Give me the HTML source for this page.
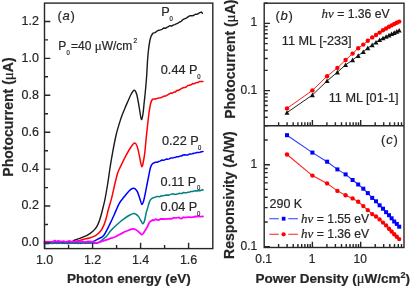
<!DOCTYPE html><html><head><meta charset="utf-8"><style>html,body{margin:0;padding:0;background:#fff;width:412px;height:287px;overflow:hidden}svg{display:block;will-change:transform}text{font-family:'Liberation Sans', sans-serif;fill:#262626;stroke:#262626;stroke-width:0.2}</style></head><body>
<svg width="412" height="287" viewBox="0 0 412 287">
<rect width="412" height="287" fill="#fff"/>
<path d="M44.5,242.4 L46.0,242.2 L47.6,242.4 L49.1,242.2 L50.6,242.4 L52.1,242.4 L53.7,241.9 L55.2,241.9 L56.7,242.5 L58.2,242.0 L59.8,242.0 L61.3,242.6 L62.8,242.1 L64.4,242.4 L65.9,242.1 L67.4,242.2 L68.9,241.8 L70.5,242.1 L72.0,242.0 L72.0,242.0 C72.5,241.7 73.4,240.7 74.9,240.0 C76.4,239.3 79.0,238.6 81.0,237.8 C83.0,237.0 85.2,236.3 87.1,235.3 C89.0,234.3 91.0,233.1 92.6,231.6 C94.2,230.1 95.6,228.7 96.8,226.6 C98.0,224.5 99.0,221.9 99.9,219.2 C100.8,216.5 101.5,213.6 102.3,210.5 C103.1,207.4 103.8,204.9 104.7,200.7 C105.6,196.4 106.6,190.4 107.5,185.0 C108.4,179.6 109.2,173.4 110.0,168.0 C110.8,162.6 111.6,158.1 112.6,152.6 C113.6,147.1 114.8,140.5 116.1,135.0 C117.4,129.5 119.2,123.9 120.5,119.8 C121.8,115.7 122.8,113.4 124.0,110.5 C125.2,107.6 126.2,105.1 127.4,102.4 C128.6,99.7 129.9,96.5 131.0,94.5 C132.1,92.5 133.3,90.4 134.2,90.3 C135.1,90.2 135.9,92.0 136.6,94.0 C137.3,96.0 137.7,98.8 138.3,102.0 C138.9,105.2 139.6,110.1 140.1,113.0 C140.6,115.9 140.9,119.2 141.4,119.5 C141.9,119.8 142.3,117.8 142.8,115.0 C143.3,112.2 143.8,106.2 144.2,102.4 C144.6,98.6 144.9,96.1 145.3,92.0 C145.7,87.9 146.1,83.2 146.5,78.0 C146.9,72.8 147.2,65.8 147.5,61.0 C147.8,56.2 148.2,52.3 148.6,49.0 C149.0,45.7 149.4,43.2 149.8,41.0 C150.2,38.8 150.7,37.3 151.2,36.0 C151.7,34.7 152.7,33.7 153.0,33.2 L155.0,32.6 L156.9,31.2 L158.9,30.2 L160.5,29.9 L162.1,29.3 L163.6,28.0 L165.2,28.3 L166.8,27.5 L168.4,26.6 L170.0,25.7 L171.5,26.2 L173.1,25.1 L174.7,24.6 L176.3,23.9 L177.9,23.2 L179.6,22.0 L181.2,21.3 L182.8,19.7 L184.4,18.9 L186.3,18.2 L188.3,16.6 L190.2,15.6 L191.9,15.8 L193.6,15.5 L195.3,14.2 L197.0,14.4 L199.0,13.2 L201.2,12.0 L202.4,13.2" fill="none" stroke="#1a1a1a" stroke-width="1.4" stroke-linejoin="round" stroke-linecap="round"/>
<path d="M44.5,242.3 L46.0,242.0 L47.5,242.0 L49.1,242.6 L50.6,242.2 L52.1,242.3 L53.6,242.1 L55.2,242.2 L56.7,242.1 L58.2,242.0 L59.8,242.2 L61.3,242.2 L62.8,242.4 L64.3,242.3 L65.8,242.4 L67.4,242.4 L68.9,242.5 L70.4,242.2 L72.0,241.8 L73.5,242.3 L75.0,242.0 L75.0,242.0 C76.2,241.6 79.8,240.3 82.2,239.6 C84.6,238.9 87.3,238.7 89.5,238.0 C91.7,237.3 93.8,236.7 95.6,235.6 C97.4,234.5 99.1,233.1 100.5,231.3 C101.9,229.5 103.1,227.0 104.1,224.6 C105.1,222.2 105.9,219.1 106.6,216.7 C107.3,214.3 107.4,213.0 108.2,210.0 C109.0,207.0 110.4,202.8 111.5,198.6 C112.6,194.4 113.9,188.1 114.6,185.0 C115.3,181.9 115.2,182.2 115.8,180.0 C116.4,177.8 117.2,174.2 118.0,172.0 C118.8,169.8 119.1,169.5 120.5,166.6 C121.9,163.7 124.8,157.7 126.6,154.4 C128.3,151.1 129.7,148.9 131.0,147.0 C132.3,145.1 133.6,143.3 134.6,143.1 C135.6,142.9 136.3,144.4 137.0,146.0 C137.7,147.6 138.1,150.1 138.7,152.6 C139.3,155.1 139.9,158.6 140.4,161.0 C140.9,163.4 141.3,166.6 141.8,166.8 C142.3,167.0 142.8,164.4 143.3,162.0 C143.8,159.6 144.3,156.8 144.8,152.6 C145.3,148.4 145.8,141.6 146.3,137.0 C146.8,132.4 147.2,129.0 147.6,125.0 C148.0,121.0 148.5,116.5 149.0,113.0 C149.5,109.5 150.0,106.2 150.5,104.0 C151.0,101.8 151.5,100.8 152.0,100.0 C152.5,99.2 153.3,99.1 153.6,98.9 L155.3,99.0 L157.0,98.6 L158.7,97.9 L160.4,97.8 L162.1,97.2 L163.8,96.2 L165.5,96.1 L167.2,95.1 L168.9,94.1 L170.6,93.1 L172.3,93.2 L174.0,92.1 L175.5,91.9 L177.1,90.3 L178.6,90.4 L180.1,89.3 L181.7,88.4 L183.2,87.8 L184.7,87.6 L186.2,87.0 L187.8,85.5 L189.3,85.3 L191.0,84.8 L192.7,83.6 L194.4,83.7 L196.1,82.7 L197.8,82.6 L199.5,81.6 L202.9,81.5" fill="none" stroke="#ff0000" stroke-width="1.5" stroke-linejoin="round" stroke-linecap="round"/>
<path d="M44.5,243.2 L46.0,243.6 L47.5,243.2 L49.0,243.6 L50.6,243.0 L52.1,242.8 L53.6,243.2 L55.1,242.8 L56.6,242.9 L58.1,243.1 L59.7,243.2 L61.2,242.9 L62.7,242.8 L64.2,243.4 L65.7,243.0 L67.2,243.5 L68.8,243.4 L70.3,243.0 L71.8,243.0 L73.3,243.1 L74.8,243.2 L76.3,243.1 L77.9,243.1 L79.4,243.1 L80.9,243.4 L82.4,243.0 L83.9,243.0 L85.5,243.2 L87.0,242.8 L88.5,242.8 L90.0,243.0 L90.0,243.0 C90.8,242.6 93.5,241.3 95.0,240.6 C96.5,239.8 97.5,239.3 99.0,238.5 C100.5,237.7 101.9,237.8 103.7,235.5 C105.5,233.2 107.9,228.0 109.6,224.6 C111.3,221.2 112.5,218.6 114.1,215.0 C115.7,211.4 117.6,206.3 119.3,203.3 C121.0,200.3 122.3,199.1 124.0,197.0 C125.7,194.9 127.8,192.1 129.3,190.7 C130.9,189.2 132.2,188.5 133.3,188.3 C134.4,188.1 135.1,188.8 135.8,189.5 C136.5,190.2 137.0,190.9 137.7,192.4 C138.4,193.9 139.1,196.5 139.8,198.5 C140.5,200.5 141.2,203.9 141.8,204.3 C142.4,204.7 143.0,203.0 143.6,201.0 C144.2,199.0 144.9,195.4 145.5,192.4 C146.1,189.4 146.7,185.9 147.3,183.0 C147.9,180.1 148.4,177.4 148.9,175.0 C149.4,172.6 149.8,170.2 150.2,168.5 C150.6,166.8 151.1,165.7 151.6,164.8 C152.1,163.9 152.8,163.5 153.4,163.1 C154.1,162.7 155.2,162.3 155.5,162.2 L157.0,162.3 L158.6,161.5 L160.1,161.1 L161.6,160.1 L163.2,160.2 L164.7,160.0 L166.2,159.0 L167.8,159.3 L169.3,158.9 L170.8,157.9 L172.3,158.1 L173.9,157.6 L175.4,157.4 L176.9,156.7 L178.5,156.7 L180.0,156.1 L181.5,156.0 L183.1,155.0 L184.6,154.8 L186.1,155.1 L187.7,155.1 L189.2,154.1 L190.7,154.0 L192.3,153.8 L193.8,153.2 L195.3,153.0 L196.9,152.6 L198.4,152.4 L199.9,152.3 L201.5,151.7 L203.0,151.6" fill="none" stroke="#0000ff" stroke-width="1.5" stroke-linejoin="round" stroke-linecap="round"/>
<path d="M44.5,243.3 L46.0,243.2 L47.6,243.5 L49.1,242.9 L50.6,243.3 L52.1,243.4 L53.7,243.1 L55.2,243.0 L56.7,243.5 L58.3,243.0 L59.8,243.0 L61.3,243.2 L62.8,243.4 L64.4,242.9 L65.9,243.0 L67.4,243.0 L69.0,243.4 L70.5,243.1 L72.0,243.4 L73.5,242.9 L75.1,243.0 L76.6,243.2 L78.1,243.4 L79.7,243.1 L81.2,242.9 L82.7,242.8 L84.2,243.1 L85.8,242.8 L87.3,243.3 L88.8,243.3 L90.4,242.8 L91.9,242.9 L93.4,243.3 L94.9,243.1 L96.5,243.3 L98.0,243.0 L98.0,243.0 C98.7,242.5 100.6,241.1 102.0,240.0 C103.4,238.9 105.2,237.7 106.6,236.2 C108.0,234.7 109.0,232.7 110.5,231.0 C112.0,229.3 113.8,227.5 115.4,226.0 C117.0,224.5 118.5,223.2 120.0,222.0 C121.5,220.8 122.8,219.8 124.3,218.7 C125.8,217.6 127.5,216.4 129.0,215.5 C130.6,214.6 132.4,213.7 133.6,213.5 C134.8,213.3 135.5,214.0 136.3,214.5 C137.1,215.0 137.8,215.6 138.6,216.6 C139.3,217.6 140.1,219.3 140.8,220.5 C141.5,221.7 142.3,223.8 142.9,223.8 C143.5,223.8 144.0,222.5 144.6,220.5 C145.2,218.5 145.8,214.3 146.4,212.0 C147.0,209.7 147.6,208.2 148.1,206.4 C148.6,204.7 149.1,202.7 149.6,201.5 C150.1,200.3 150.5,199.7 151.2,199.0 C151.8,198.3 153.1,197.8 153.5,197.6 L155.0,197.2 L156.5,196.6 L158.0,196.6 L159.5,196.8 L161.0,196.0 L162.5,195.8 L164.0,195.6 L165.5,195.3 L167.0,195.0 L168.5,195.3 L170.0,194.6 L171.5,194.1 L173.0,193.7 L174.5,194.4 L176.0,194.2 L177.5,194.1 L179.0,193.3 L180.5,193.6 L182.0,193.4 L183.5,192.5 L185.0,192.8 L186.6,192.7 L188.1,192.3 L189.6,192.0 L191.1,191.5 L192.6,191.4 L194.1,191.1 L195.6,190.7 L197.1,191.0 L198.6,190.5 L200.1,190.8 L201.6,189.8 L203.1,190.1" fill="none" stroke="#008080" stroke-width="1.5" stroke-linejoin="round" stroke-linecap="round"/>
<path d="M44.5,241.3 L46.0,241.9 L47.5,241.6 L49.0,241.9 L50.5,241.9 L52.0,241.9 L53.5,241.4 L55.0,240.6 L56.5,241.7 L58.0,240.9 L59.5,241.1 L61.0,241.6 L62.5,241.4 L64.0,241.2 L65.5,242.0 L67.0,241.5 L68.5,241.1 L70.0,241.0 L71.5,241.9 L73.0,241.3 L74.5,241.8 L76.0,241.2 L77.5,241.0 L79.0,241.4 L80.5,241.8 L82.0,240.9 L83.5,241.8 L85.0,242.0 L86.5,241.8 L88.0,241.4 L88.0,241.4 C88.7,241.4 90.6,241.4 92.0,241.6 C93.4,241.8 94.8,242.8 96.4,242.8 C98.0,242.8 99.6,242.1 101.8,241.4 C104.0,240.7 107.3,239.5 109.5,238.8 C111.7,238.1 113.2,237.8 115.0,237.0 C116.8,236.2 118.7,234.9 120.5,234.0 C122.3,233.1 124.0,232.2 126.0,231.3 C128.1,230.5 131.2,229.2 132.8,228.9 C134.4,228.6 134.7,229.1 135.5,229.5 C136.3,229.9 137.1,230.5 137.9,231.1 C138.7,231.7 139.5,232.7 140.2,233.3 C140.9,233.9 141.5,234.9 142.3,234.5 C143.1,234.1 144.0,232.3 144.8,231.0 C145.7,229.7 146.7,228.1 147.4,226.7 C148.2,225.3 148.5,223.6 149.3,222.5 C150.1,221.4 151.9,220.4 152.4,220.0 L154.0,220.3 L155.6,219.2 L157.2,219.8 L158.8,220.0 L160.4,218.9 L162.0,219.0 L163.6,218.9 L165.2,219.1 L166.8,218.8 L168.4,218.8 L170.0,218.7 L171.5,218.9 L173.0,217.9 L174.5,217.8 L176.0,217.8 L177.5,217.7 L179.0,217.5 L180.5,218.5 L182.0,218.3 L183.5,217.2 L185.0,217.6 L186.5,217.3 L188.0,217.2 L189.5,217.1 L191.0,217.3 L192.5,217.2 L194.0,216.8 L195.5,216.5 L197.0,216.5 L198.5,216.2 L200.0,216.6 L201.5,216.7 L203.0,216.3" fill="none" stroke="#ff00ff" stroke-width="1.8" stroke-linejoin="round" stroke-linecap="round"/>
<rect x="44.5" y="3.1" width="168.3" height="245.5" fill="none" stroke="#262626" stroke-width="1.4"/>
<path d="M44.6,248.6 V242.79999999999998 M68.6,248.6 V245.1 M92.6,248.6 V242.79999999999998 M116.6,248.6 V245.1 M140.6,248.6 V242.79999999999998 M164.6,248.6 V245.1 M188.6,248.6 V242.79999999999998 M44.5,242.9 H50.3 M44.5,224.5 H48.0 M44.5,206.0 H50.3 M44.5,187.6 H48.0 M44.5,169.1 H50.3 M44.5,150.7 H48.0 M44.5,132.2 H50.3 M44.5,113.8 H48.0 M44.5,95.3 H50.3 M44.5,76.8 H48.0 M44.5,58.4 H50.3 M44.5,39.9 H48.0 M44.5,21.5 H50.3" stroke="#262626" stroke-width="1.4" fill="none"/>
<text x="44.6" y="264.3" font-size="12.5" text-anchor="middle">1.0</text>
<text x="92.6" y="264.3" font-size="12.5" text-anchor="middle">1.2</text>
<text x="140.6" y="264.3" font-size="12.5" text-anchor="middle">1.4</text>
<text x="188.6" y="264.3" font-size="12.5" text-anchor="middle">1.6</text>
<text x="39" y="246.0" font-size="12.5" text-anchor="end">0.0</text>
<text x="39" y="209.2" font-size="12.5" text-anchor="end">0.2</text>
<text x="39" y="172.4" font-size="12.5" text-anchor="end">0.4</text>
<text x="39" y="135.6" font-size="12.5" text-anchor="end">0.6</text>
<text x="39" y="98.8" font-size="12.5" text-anchor="end">0.8</text>
<text x="39" y="62.0" font-size="12.5" text-anchor="end">1.0</text>
<text x="39" y="25.2" font-size="12.5" text-anchor="end">1.2</text>
<text x="129" y="282.8" font-size="13.5" font-weight="bold" text-anchor="middle">Photon energy (eV)</text>
<text transform="translate(12.7,117) rotate(-90)" font-size="14" font-weight="bold" text-anchor="middle">Photocurrent (<tspan font-family="Liberation Serif" font-weight="normal" font-size="15">μ</tspan>A)</text>
<text x="57.6" y="20.4" font-size="13" letter-spacing="0.6">(<tspan font-style="italic">a</tspan>)</text>
<text x="58.2" y="49.8" font-size="12">P</text>
<text transform="translate(66.6,54.8) scale(0.85,1)" font-size="7">0</text>
<text x="71" y="49.8" font-size="12">=40 <tspan font-family="Liberation Serif" font-size="13">μ</tspan>W/cm</text>
<text x="133.4" y="43.3" font-size="6.5">2</text>
<text x="161.2" y="15.8" font-size="12.7">P</text>
<text transform="translate(169.6,21.1) scale(0.85,1)" font-size="7">0</text>
<text x="160.8" y="74.3" font-size="12.7">0.44 P</text>
<text transform="translate(197.2,78.8) scale(0.85,1)" font-size="7">0</text>
<text x="162.0" y="145.0" font-size="12.7">0.22 P</text>
<text transform="translate(198.1,149.5) scale(0.85,1)" font-size="7">0</text>
<text x="160.6" y="185.9" font-size="12.7">0.11 P</text>
<text transform="translate(197.1,190.2) scale(0.85,1)" font-size="7">0</text>
<text x="160.6" y="211.3" font-size="12.7">0.04 P</text>
<text transform="translate(197.1,216.1) scale(0.85,1)" font-size="7">0</text>
<rect x="264.2" y="3.2" width="139.8" height="244.3" fill="none" stroke="#262626" stroke-width="1.4"/>
<line x1="264.2" y1="125.7" x2="404.0" y2="125.7" stroke="#262626" stroke-width="1.4"/>
<path d="M278.6,125.7 V122.2 M287.1,125.7 V122.2 M293.2,125.7 V122.2 M297.9,125.7 V122.2 M301.7,125.7 V122.2 M304.9,125.7 V122.2 M307.7,125.7 V122.2 M310.2,125.7 V122.2 M312.4,125.7 V119.9 M326.9,125.7 V122.2 M335.4,125.7 V122.2 M341.5,125.7 V122.2 M346.2,125.7 V122.2 M350.0,125.7 V122.2 M353.2,125.7 V122.2 M356.0,125.7 V122.2 M358.5,125.7 V122.2 M360.7,125.7 V119.9 M375.2,125.7 V122.2 M383.7,125.7 V122.2 M389.8,125.7 V122.2 M394.5,125.7 V122.2 M398.3,125.7 V122.2 M401.5,125.7 V122.2 M278.6,247.5 V244.0 M287.1,247.5 V244.0 M293.2,247.5 V244.0 M297.9,247.5 V244.0 M301.7,247.5 V244.0 M304.9,247.5 V244.0 M307.7,247.5 V244.0 M310.2,247.5 V244.0 M312.4,247.5 V241.7 M326.9,247.5 V244.0 M335.4,247.5 V244.0 M341.5,247.5 V244.0 M346.2,247.5 V244.0 M350.0,247.5 V244.0 M353.2,247.5 V244.0 M356.0,247.5 V244.0 M358.5,247.5 V244.0 M360.7,247.5 V241.7 M375.2,247.5 V244.0 M383.7,247.5 V244.0 M389.8,247.5 V244.0 M394.5,247.5 V244.0 M398.3,247.5 V244.0 M401.5,247.5 V244.0 M264.2,125.7 H267.7 M264.2,117.3 H267.7 M264.2,110.8 H267.7 M264.2,105.5 H267.7 M264.2,101.0 H267.7 M264.2,97.1 H267.7 M264.2,93.7 H267.7 M264.2,90.6 H270.0 M264.2,70.4 H267.7 M264.2,58.5 H267.7 M264.2,50.1 H267.7 M264.2,43.6 H267.7 M264.2,38.3 H267.7 M264.2,33.8 H267.7 M264.2,29.9 H267.7 M264.2,26.5 H267.7 M264.2,23.4 H270.0 M264.2,3.2 H267.7 M264.2,246.7 H270.0 M264.2,222.0 H267.7 M264.2,207.6 H267.7 M264.2,197.3 H267.7 M264.2,189.4 H267.7 M264.2,182.9 H267.7 M264.2,177.4 H267.7 M264.2,172.6 H267.7 M264.2,168.5 H267.7 M264.2,164.7 H270.0 M264.2,140.0 H267.7 M264.2,125.6 H267.7" stroke="#262626" stroke-width="1.4" fill="none"/>
<text x="257.2" y="26.2" font-size="12" text-anchor="end">1</text>
<text x="257.2" y="93.7" font-size="12" text-anchor="end">0.1</text>
<text x="257.2" y="168.2" font-size="12" text-anchor="end">1</text>
<text x="257.2" y="250.2" font-size="12" text-anchor="end">0.1</text>
<text x="263.7" y="262.8" font-size="12" text-anchor="middle">0.1</text>
<text x="312.0" y="262.8" font-size="12" text-anchor="middle">1</text>
<text x="360.3" y="262.8" font-size="12" text-anchor="middle">10</text>
<text x="332.8" y="283.4" font-size="13.5" font-weight="bold" text-anchor="middle">Power Density (<tspan font-family="Liberation Serif" font-weight="normal" font-size="14.5">μ</tspan>W/cm<tspan font-size="9" dy="-5">2</tspan><tspan dy="5">)</tspan></text>
<text transform="translate(234.8,59.2) rotate(-90)" font-size="14" font-weight="bold" text-anchor="middle">Photocurrent (<tspan font-family="Liberation Serif" font-weight="normal" font-size="15">μ</tspan>A)</text>
<text transform="translate(234.3,195.1) rotate(-90)" font-size="14" font-weight="bold" text-anchor="middle">Responsivity (A/W)</text>
<text x="275.4" y="20.4" font-size="13" letter-spacing="0.8">(<tspan font-style="italic">b</tspan>)</text>
<text x="381" y="143.5" font-size="13" letter-spacing="0.8">(<tspan font-style="italic">c</tspan>)</text>
<text x="321.5" y="18.4" font-size="12.2"><tspan font-family="Liberation Serif" font-style="italic" font-size="13">hν</tspan> = 1.36 eV</text>
<text x="281.8" y="45.4" font-size="12.7">11 ML [-233]</text>
<text x="328.7" y="101.9" font-size="12.7">11 ML [01-1]</text>
<text x="269.5" y="207.5" font-size="12.5">290 K</text>
<text x="301" y="222.9" font-size="12.2"><tspan font-family="Liberation Serif" font-style="italic" font-size="13">hν</tspan> = 1.55 eV</text>
<text x="301" y="238.4" font-size="12.2"><tspan font-family="Liberation Serif" font-style="italic" font-size="13">hν</tspan> = 1.36 eV</text>
<polyline points="287.0,108.4 312.4,90.4 327.1,76.2 337.4,67.9 345.6,60.0 352.6,53.6 358.2,48.2 363.3,44.6 367.8,40.8 372.2,37.4 376.0,35.0 379.6,32.6 383.0,30.3 386.1,28.5 389.0,26.8 391.6,25.4 394.2,24.0 396.8,22.8 399.2,21.6" fill="none" stroke="#ff2020" stroke-width="1"/>
<polyline points="287.0,112.6 312.4,95.0 327.1,80.9 337.4,72.2 345.6,64.9 352.6,60.0 358.2,55.7 363.3,51.8 367.8,48.0 372.2,45.0 376.0,42.3 379.6,39.9 383.0,38.1 386.1,36.6 389.0,35.2 391.6,33.9 394.2,32.7 396.8,31.5 399.2,30.3" fill="none" stroke="#222" stroke-width="1"/>
<path d="M284.5,114.8 L289.5,114.8 L287.0,110.2 Z" fill="#111"/>
<path d="M309.9,97.2 L314.9,97.2 L312.4,92.6 Z" fill="#111"/>
<path d="M324.6,83.1 L329.6,83.1 L327.1,78.5 Z" fill="#111"/>
<path d="M334.9,74.4 L339.9,74.4 L337.4,69.8 Z" fill="#111"/>
<path d="M343.1,67.1 L348.1,67.1 L345.6,62.5 Z" fill="#111"/>
<path d="M350.1,62.2 L355.1,62.2 L352.6,57.6 Z" fill="#111"/>
<path d="M355.7,57.9 L360.7,57.9 L358.2,53.3 Z" fill="#111"/>
<path d="M360.8,54.0 L365.8,54.0 L363.3,49.4 Z" fill="#111"/>
<path d="M365.3,50.2 L370.3,50.2 L367.8,45.6 Z" fill="#111"/>
<path d="M369.7,47.2 L374.7,47.2 L372.2,42.6 Z" fill="#111"/>
<path d="M373.5,44.5 L378.5,44.5 L376.0,39.9 Z" fill="#111"/>
<path d="M377.1,42.1 L382.1,42.1 L379.6,37.5 Z" fill="#111"/>
<path d="M380.5,40.3 L385.5,40.3 L383.0,35.7 Z" fill="#111"/>
<path d="M383.6,38.8 L388.6,38.8 L386.1,34.2 Z" fill="#111"/>
<path d="M386.5,37.4 L391.5,37.4 L389.0,32.8 Z" fill="#111"/>
<path d="M389.1,36.1 L394.1,36.1 L391.6,31.5 Z" fill="#111"/>
<path d="M391.7,34.9 L396.7,34.9 L394.2,30.3 Z" fill="#111"/>
<path d="M394.3,33.7 L399.3,33.7 L396.8,29.1 Z" fill="#111"/>
<path d="M396.7,32.5 L401.7,32.5 L399.2,27.9 Z" fill="#111"/>
<circle cx="287" cy="108.4" r="2.2" fill="#ff0000"/>
<circle cx="312.4" cy="90.4" r="2.2" fill="#ff0000"/>
<circle cx="327.1" cy="76.2" r="2.2" fill="#ff0000"/>
<circle cx="337.4" cy="67.9" r="2.2" fill="#ff0000"/>
<circle cx="345.6" cy="60.0" r="2.2" fill="#ff0000"/>
<circle cx="352.6" cy="53.6" r="2.2" fill="#ff0000"/>
<circle cx="358.2" cy="48.2" r="2.2" fill="#ff0000"/>
<circle cx="363.3" cy="44.6" r="2.2" fill="#ff0000"/>
<circle cx="367.8" cy="40.8" r="2.2" fill="#ff0000"/>
<circle cx="372.2" cy="37.4" r="2.2" fill="#ff0000"/>
<circle cx="376.0" cy="35.0" r="2.2" fill="#ff0000"/>
<circle cx="379.6" cy="32.6" r="2.2" fill="#ff0000"/>
<circle cx="383.0" cy="30.3" r="2.2" fill="#ff0000"/>
<circle cx="386.1" cy="28.5" r="2.2" fill="#ff0000"/>
<circle cx="389.0" cy="26.8" r="2.2" fill="#ff0000"/>
<circle cx="391.6" cy="25.4" r="2.2" fill="#ff0000"/>
<circle cx="394.2" cy="24.0" r="2.2" fill="#ff0000"/>
<circle cx="396.8" cy="22.8" r="2.2" fill="#ff0000"/>
<circle cx="399.2" cy="21.6" r="2.2" fill="#ff0000"/>
<polyline points="287.0,135.2 312.4,152.6 327.1,161.7 337.4,169.4 345.6,174.4 352.6,180.0 358.2,184.5 363.3,188.7 367.8,193.1 372.2,197.9 376.0,201.3 379.6,205.3 383.0,208.7 386.1,212.2 389.0,215.2 391.6,218.3 394.2,221.5 396.8,223.9 399.2,226.7" fill="none" stroke="#2a3aff" stroke-width="1.1"/>
<polyline points="287.0,154.5 312.4,175.6 327.1,183.4 337.4,190.9 345.6,195.3 352.6,198.4 358.2,201.8 363.3,206.1 367.8,210.1 372.2,214.1 376.0,216.5 379.6,219.4 383.0,222.6 386.1,225.4 389.0,228.7 391.6,231.5 394.2,234.3 396.8,236.8 399.2,239.1" fill="none" stroke="#ff2020" stroke-width="1.1"/>
<rect x="285.0" y="133.2" width="4" height="4" fill="#0000ff"/>
<rect x="310.4" y="150.6" width="4" height="4" fill="#0000ff"/>
<rect x="325.1" y="159.7" width="4" height="4" fill="#0000ff"/>
<rect x="335.4" y="167.4" width="4" height="4" fill="#0000ff"/>
<rect x="343.6" y="172.4" width="4" height="4" fill="#0000ff"/>
<rect x="350.6" y="178.0" width="4" height="4" fill="#0000ff"/>
<rect x="356.2" y="182.5" width="4" height="4" fill="#0000ff"/>
<rect x="361.3" y="186.7" width="4" height="4" fill="#0000ff"/>
<rect x="365.8" y="191.1" width="4" height="4" fill="#0000ff"/>
<rect x="370.2" y="195.9" width="4" height="4" fill="#0000ff"/>
<rect x="374.0" y="199.3" width="4" height="4" fill="#0000ff"/>
<rect x="377.6" y="203.3" width="4" height="4" fill="#0000ff"/>
<rect x="381.0" y="206.7" width="4" height="4" fill="#0000ff"/>
<rect x="384.1" y="210.2" width="4" height="4" fill="#0000ff"/>
<rect x="387.0" y="213.2" width="4" height="4" fill="#0000ff"/>
<rect x="389.6" y="216.3" width="4" height="4" fill="#0000ff"/>
<rect x="392.2" y="219.5" width="4" height="4" fill="#0000ff"/>
<rect x="394.8" y="221.9" width="4" height="4" fill="#0000ff"/>
<rect x="397.2" y="224.7" width="4" height="4" fill="#0000ff"/>
<circle cx="287" cy="154.5" r="2.2" fill="#ff0000"/>
<circle cx="312.4" cy="175.6" r="2.2" fill="#ff0000"/>
<circle cx="327.1" cy="183.4" r="2.2" fill="#ff0000"/>
<circle cx="337.4" cy="190.9" r="2.2" fill="#ff0000"/>
<circle cx="345.6" cy="195.3" r="2.2" fill="#ff0000"/>
<circle cx="352.6" cy="198.4" r="2.2" fill="#ff0000"/>
<circle cx="358.2" cy="201.8" r="2.2" fill="#ff0000"/>
<circle cx="363.3" cy="206.1" r="2.2" fill="#ff0000"/>
<circle cx="367.8" cy="210.1" r="2.2" fill="#ff0000"/>
<circle cx="372.2" cy="214.1" r="2.2" fill="#ff0000"/>
<circle cx="376.0" cy="216.5" r="2.2" fill="#ff0000"/>
<circle cx="379.6" cy="219.4" r="2.2" fill="#ff0000"/>
<circle cx="383.0" cy="222.6" r="2.2" fill="#ff0000"/>
<circle cx="386.1" cy="225.4" r="2.2" fill="#ff0000"/>
<circle cx="389.0" cy="228.7" r="2.2" fill="#ff0000"/>
<circle cx="391.6" cy="231.5" r="2.2" fill="#ff0000"/>
<circle cx="394.2" cy="234.3" r="2.2" fill="#ff0000"/>
<circle cx="396.8" cy="236.8" r="2.2" fill="#ff0000"/>
<circle cx="399.2" cy="239.1" r="2.2" fill="#ff0000"/>
<path d="M269.3,218.7 H278.8 M288.3,218.7 H297.9" stroke="#2a3aff" stroke-width="1.1"/>
<rect x="281.8" y="216.8" width="3.7" height="3.8" fill="#0000ff"/>
<path d="M269.3,234.3 H278.8 M288.3,234.3 H297.9" stroke="#ff2020" stroke-width="1.1"/>
<circle cx="283.6" cy="234.3" r="2.1" fill="#ff0000"/>
</svg></body></html>
